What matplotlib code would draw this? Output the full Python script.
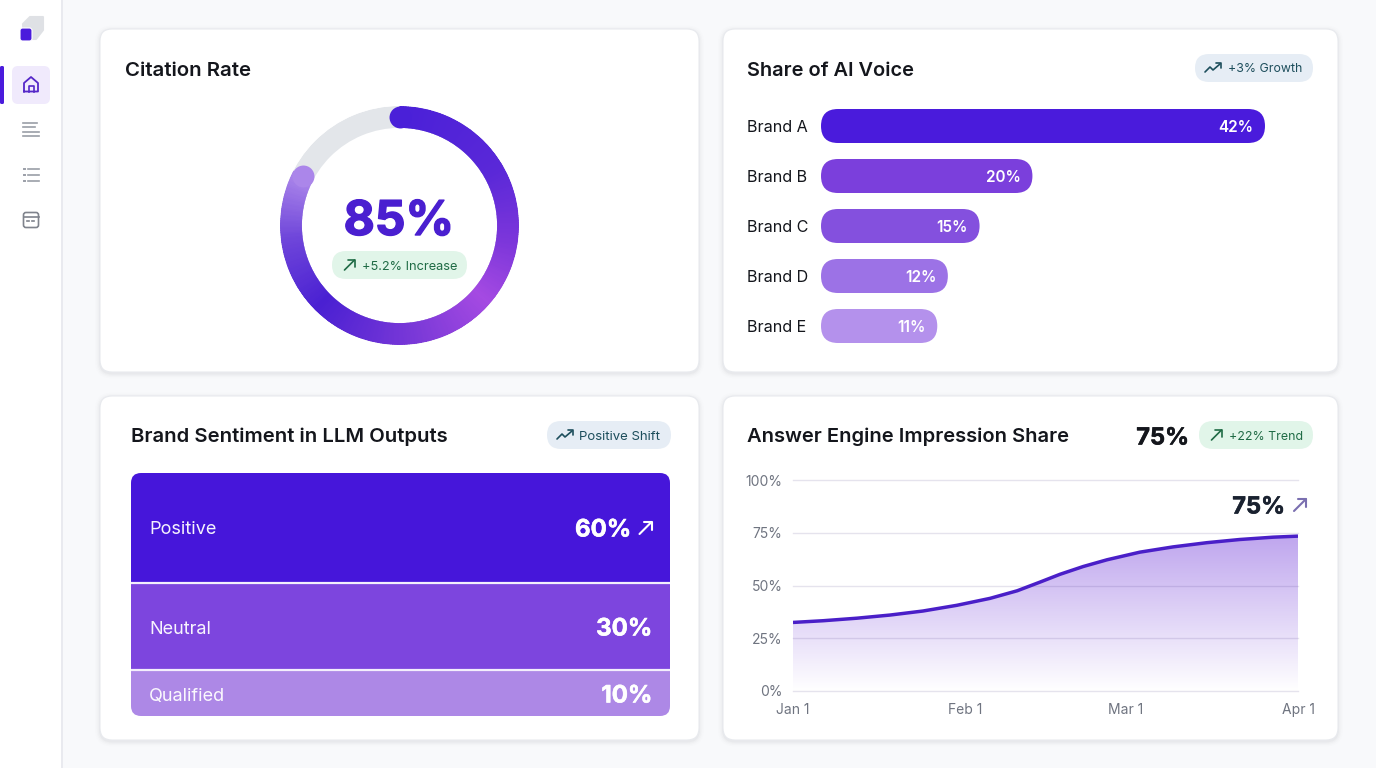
import matplotlib
matplotlib.use("Agg")
import matplotlib.patheffects as pe
import matplotlib.pyplot as plt
import numpy as np
import pandas as pd
from matplotlib.colors import LinearSegmentedColormap
from matplotlib.patches import FancyBboxPatch, Polygon, Rectangle

plt.rcParams["font.family"] = ["Inter", "DejaVu Sans"]

W, H = 1376, 768

# citation rate
citation_label = "85%"
citation_drawn = 82.5  # the ring stops a little short of the printed 85
ring_stops = [0.0, 0.2, 0.33, 0.44, 0.57, 0.76, 0.89, 1.0]
ring_colors = ["#4a20d8", "#5a28d8", "#7c36da", "#a54ae2", "#7d3ad8", "#4a20d2", "#6f46da", "#ab86ea"]

# share of ai voice
brands = ["Brand A", "Brand B", "Brand C", "Brand D", "Brand E"]
brand_share = [42, 20, 15, 12, 11]
brand_colors = ["#4a1bdc", "#7b3fdc", "#8450de", "#9c72e6", "#b491ec"]

# sentiment, the band heights do not follow the printed shares in the picture
sentiment = ["Positive", "Neutral", "Qualified"]
sentiment_share = [60, 30, 10]
sentiment_height = [45.4, 35.6, 19.0]
sentiment_colors = ["#4616da", "#7d45de", "#ad88e6"]

# impression share
days = [0, 5.4, 11.5, 17.5, 23.4, 29.5, 35.5, 40.4, 44.5, 48.1, 52.3, 56.6, 62.5, 68.5, 74.6, 80.5, 86.5, 91]
impressions = [32.5, 33.3, 34.5, 36.0, 37.9, 40.6, 43.9, 47.5, 51.6, 55.3, 59.0, 62.2, 65.8, 68.3, 70.3,
               71.8, 72.9, 73.4]
start_date = pd.Timestamp("2024-01-01")
tick_dates = pd.to_datetime(["2024-01-01", "2024-02-01", "2024-03-01", "2024-04-01"])
tick_names = ["Jan 1", "Feb 1", "Mar 1", "Apr 1"]
y_ticks = [0, 25, 50, 75, 100]

cards = [(100, 29, 699, 372), (723, 29, 1338, 372), (100, 396, 699, 740), (723, 396, 1338, 740)]

INK = "#14161c"
GREY = "#6f7480"
GREEN_BG, GREEN_TX = "#e1f5e9", "#1f6b45"
BLUE_BG, BLUE_TX = "#e6edf5", "#1d4e5c"


def px_axes(x0, y0, x1, y1, **kw):
    return fig.add_axes([x0 / W, 1 - y1 / H, (x1 - x0) / W, (y1 - y0) / H], **kw)


def rbox(ax, x0, y0, x1, y1, r, **kw):
    p = FancyBboxPatch((x0, y0), x1 - x0, y1 - y0, boxstyle=f"round,pad=0,rounding_size={r}", **kw)
    ax.add_patch(p)
    return p


def up_arrow(ax, x, y, s, color, lw=1.2):
    # little diagonal arrow centred on x, y
    ax.plot([x - s, x + s], [y + s, y - s], color=color, lw=lw, solid_capstyle="round")
    ax.plot([x - s * 0.3, x + s, x + s], [y - s, y - s, y + s * 0.3], color=color, lw=lw,
            solid_capstyle="round", solid_joinstyle="round")


def trend_arrow(ax, x, y, color, lw=1.2):
    ax.plot([x - 8, x - 3, x, x + 7], [y + 4, y - 1, y + 2, y - 4], color=color, lw=lw,
            solid_capstyle="round", solid_joinstyle="round")
    ax.plot([x + 3, x + 8, x + 8], [y - 5, y - 5, y], color=color, lw=lw,
            solid_capstyle="round", solid_joinstyle="round")


def badge(ax, x0, x1, yc, bg, tx, label, text_x, size=9.2):
    rbox(ax, x0, yc - 14, x1, yc + 14, 14, fc=bg, ec="none")
    ax.text(text_x, yc, label, color=tx, fontsize=size, va="center_baseline", ha="left")


def big_text(ax, x, y, label, color, size, width=0.5, ha="right"):
    # the picture's big numbers are heavier than the installed weight
    ax.text(x, y, label, color=color, fontsize=size, fontweight="bold", ha=ha, va="center_baseline",
            path_effects=[pe.Stroke(linewidth=width, foreground=color), pe.Normal()])


fig = plt.figure(figsize=(W / 100, H / 100), dpi=100, facecolor="#f8f9fb")

bg = px_axes(0, 0, W, H, zorder=0)
bg.set_xlim(0, W)
bg.set_ylim(H, 0)
bg.axis("off")

top = px_axes(0, 0, W, H, zorder=10)
top.set_xlim(0, W)
top.set_ylim(H, 0)
top.axis("off")
top.patch.set_alpha(0)

# sidebar
bg.add_patch(Rectangle((0, 0), 61, H, fc="white", ec="none"))
bg.plot([61.5, 61.5], [0, H], color="#e6e8ed", lw=1.2)

# cards with a soft shadow
for x0, y0, x1, y1 in cards:
    for grow, a in [(5, 0.008), (3.5, 0.012), (2.2, 0.02), (1, 0.03)]:
        rbox(bg, x0 - grow, y0 - grow + 1.5, x1 + grow, y1 + grow + 1.5, 12 + grow, fc="#2a2f45", ec="none", alpha=a)
    rbox(bg, x0, y0, x1, y1, 12, fc="white", ec="#e8eaee", lw=0.8)

# sidebar icons
PURPLE = "#4a1bdc"
top.add_patch(Polygon([(23, 24), (30, 17), (43, 17), (43, 30), (36, 39), (24, 39)], closed=True, fc="#dfe1e5", ec="#dfe1e5",
                      lw=1.5, joinstyle="round"))
rbox(top, 20, 28, 32, 41, 2.5, fc=PURPLE, ec="white", lw=0.8)
rbox(top, 0, 66, 4, 104, 1.5, fc=PURPLE, ec="none")
rbox(top, 12, 66, 50, 104, 6, fc="#f0eafc", ec="none")
top.plot([24, 24, 31, 38, 38, 24], [91.5, 83, 77, 83, 91.5, 91.5], color="#5527c8", lw=1.3, solid_joinstyle="round")
top.plot([28.5, 28.5, 33.5, 33.5], [91.5, 86, 86, 91.5], color="#5527c8", lw=1.2)
for yy, x1 in zip([122.5, 127, 131.5, 136], [37, 35, 38.5, 38.5]):
    top.plot([23, x1], [yy, yy], color="#9a9ea7", lw=1.2)
for yy in [168.5, 174.5, 180.5]:
    top.plot([23.5, 25], [yy, yy], color="#9a9ea7", lw=1.4)
    top.plot([28, 38.5], [yy, yy], color="#9a9ea7", lw=1.2)
rbox(top, 23.5, 212.5, 38.5, 227.5, 2.5, fc="none", ec="#7f838c", lw=1.2)
top.plot([23.5, 38.5], [217, 217], color="#7f838c", lw=1.2)
top.plot([27, 29], [221, 221], color="#7f838c", lw=1.2)
top.plot([31.5, 34], [221, 221], color="#7f838c", lw=1.2)

# citation rate ring
ring = px_axes(280, 106, 519, 345, projection="polar", zorder=1)
ring.set_theta_zero_location("N")
ring.set_theta_direction(-1)
ring.axis("off")
ring.patch.set_alpha(0)

sweep = 2 * np.pi * citation_drawn / 100
ring.bar(0, 22, width=2 * np.pi, bottom=98, align="edge", color="#e3e6ea", lw=0)

ring_cmap = LinearSegmentedColormap.from_list("ring", list(zip(ring_stops, ring_colors)))
steps = 360
step = sweep / steps
for k in range(steps):
    ring.bar(k * step, 22, width=step * 1.6, bottom=98, align="edge", color=ring_cmap(k / (steps - 1)), lw=0, zorder=2)
cap_size = 15.8 ** 2
ring.scatter([0], [109], s=cap_size, color=ring_colors[0], lw=0, zorder=3, clip_on=False)
ring.scatter([sweep], [109], s=cap_size, color=ring_colors[-1], lw=0, zorder=3, clip_on=False)
ring.set_xlim(0, 2 * np.pi)
ring.set_ylim(0, 120)

top.text(125, 69, "Citation Rate", color=INK, fontsize=14.7, fontweight="semibold", va="center_baseline")
big_text(top, 399, 217, citation_label, "#4a1fd0", 34.5, width=1.0, ha="center")
badge(top, 332, 467, 265, GREEN_BG, GREEN_TX, "+5.2% Increase", 362)
up_arrow(top, 349.5, 265, 5, GREEN_TX)

# share of ai voice
bars = px_axes(821, 101, 1265, 351, zorder=1)
bars.set_xlim(0, 42)
bars.set_ylim(4.5, -0.5)
bars.axis("off")
bars.patch.set_alpha(0)
unit_x = 444 / 42
for i, (name, val, col) in enumerate(zip(brands, brand_share, brand_colors)):
    rbox(bars, 0, i - 0.34, val, i + 0.34, 17 / unit_x, fc=col, ec="none", clip_on=False,
         mutation_aspect=(17 / 50) / (17 / unit_x))
    bars.text(val - 11.5 / unit_x, i, f"{val}%", color="white", fontsize=11, fontweight="semibold",
              ha="right", va="center_baseline")
    top.text(747, 126 + i * 50, name, color=INK, fontsize=11.6, va="center_baseline")

top.text(747, 69, "Share of AI Voice", color=INK, fontsize=14.4, fontweight="semibold", va="center_baseline")
badge(top, 1195, 1313, 68, BLUE_BG, BLUE_TX, "+3% Growth", 1228, size=8.9)
trend_arrow(top, 1213, 68, BLUE_TX)

# sentiment stack
stack = px_axes(131, 473, 670, 716, zorder=1)
stack.set_xlim(0, 1)
stack.set_ylim(100, 0)
stack.axis("off")
stack.patch.set_alpha(0)
clip = FancyBboxPatch((131, 473), 539, 243, boxstyle="round,pad=0,rounding_size=10", transform=bg.transData,
                      fc="none", ec="none")
bottoms = np.cumsum([0] + sentiment_height[:-1])
made = stack.bar([0.5] * 3, sentiment_height, width=1, bottom=bottoms, color=sentiment_colors, lw=0)
for b in made:
    b.set_clip_path(clip)
for b_y in bottoms[1:]:
    stack.axhline(b_y, color="#f3eefc", lw=1.6)
text_y = [528, 627, 694]
value_right = [631, 652, 652]
for name, val, yy, xr in zip(sentiment, sentiment_share, text_y, value_right):
    top.text(149, yy, name, color="#ffffff", fontsize=13, va="center_baseline", alpha=0.95)
    big_text(top, xr, yy, f"{val}%", "white", 17.3, width=0.4)
up_arrow(top, 645.5, 528, 6, "white", lw=1.5)

top.text(131, 435, "Brand Sentiment in LLM Outputs", color=INK, fontsize=14.6, fontweight="semibold",
         va="center_baseline")
badge(top, 547, 671, 435, BLUE_BG, BLUE_TX, "Positive Shift", 579, size=9.5)
trend_arrow(top, 565, 435, BLUE_TX)

# impression share
line_ax = px_axes(793, 480, 1298, 691, zorder=1)
dates = start_date + pd.to_timedelta(days, unit="D")
line_ax.patch.set_alpha(0)
for s in line_ax.spines.values():
    s.set_visible(False)
fill = line_ax.fill_between(dates, impressions, 0, color="none", lw=0)
fade = LinearSegmentedColormap.from_list("fade", ["#ffffff", "#bfa6ee"])
xl = matplotlib.dates.date2num(tick_dates[[0, -1]])
img = line_ax.imshow(np.linspace(1, 0, 200)[:, None], extent=[xl[0], xl[1], 0, max(impressions)], aspect="auto",
                     cmap=fade, vmin=0, vmax=1, zorder=1, interpolation="bilinear")
img.set_clip_path(fill.get_paths()[0], transform=line_ax.transData)
line_ax.plot(dates, impressions, color="#4a1fc8", lw=2.5, zorder=5, solid_capstyle="butt")

line_ax.set_xlim(tick_dates[0], tick_dates[-1])
line_ax.set_ylim(0, 100)
line_ax.set_yticks(y_ticks)
line_ax.set_yticklabels([f"{v}%" for v in y_ticks])
line_ax.set_xticks(tick_dates)
line_ax.set_xticklabels(tick_names)
line_ax.tick_params(length=0, labelsize=10, labelcolor=GREY)
line_ax.tick_params(axis="y", pad=7.5)
line_ax.tick_params(axis="x", pad=8.5)
line_ax.grid(axis="x", visible=False)
line_ax.set_axisbelow(False)
line_ax.grid(axis="y", color="#3d2878", alpha=0.13, lw=1)
for gl in line_ax.get_ygridlines():
    gl.set_clip_on(False)
    gl.set_zorder(3)

top.text(747, 435, "Answer Engine Impression Share", color=INK, fontsize=14.5, fontweight="semibold",
         va="center_baseline")
big_text(top, 1189, 436, "75%", INK, 17, width=0.4)
badge(top, 1199, 1313, 435, GREEN_BG, GREEN_TX, "+22% Trend", 1229, size=8.9)
up_arrow(top, 1216.5, 435, 5, GREEN_TX)
big_text(top, 1285, 505, "75%", "#1a2230", 17, width=0.4)
up_arrow(top, 1300, 505, 6, "#7a6fb0", lw=1.5)

fig.savefig("out.png", dpi=100, facecolor=fig.get_facecolor())
